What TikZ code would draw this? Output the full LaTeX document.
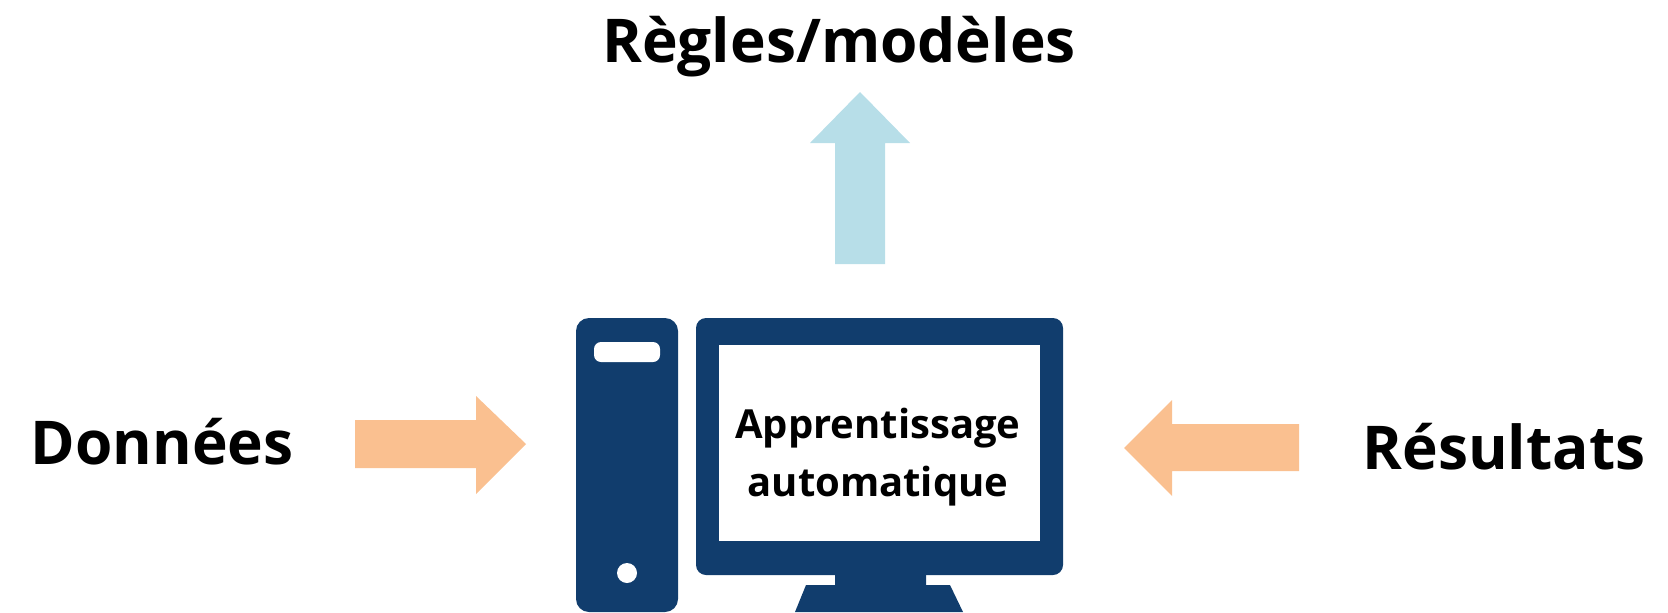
\documentclass[tikz,border=0pt]{standalone}
\usepackage{fontspec}
\setmainfont{Open Sans}
\definecolor{navy}{HTML}{113D6D}
\definecolor{skyarrow}{HTML}{B7DEE8}
\definecolor{peach}{HTML}{FAC090}
\tikzset{
  biglabel/.style={font=\bfseries\fontsize{60.4}{60}\selectfont,text=black,inner sep=0pt,anchor=base},
  screenlabel/.style={font=\bfseries\fontsize{40}{58}\selectfont,text=black,inner sep=0pt,align=center},
  pc/.style={fill=navy,draw=none},
  hole/.style={fill=white,draw=none},
}
\begin{document}
\begin{tikzpicture}[x=1pt,y=-1pt]
\useasboundingbox (0,0) rectangle (1668,613);
% arrows
\fill[skyarrow] (860,92) -- (910,143) -- (885,143) -- (885,264) -- (835,264) -- (835,143) -- (810,143) -- cycle;
\fill[peach] (526,444) -- (476,494) -- (476,468) -- (355,468) -- (355,420) -- (476,420) -- (476,396) -- cycle;
\fill[peach] (1124,448) -- (1172,400) -- (1172,424) -- (1299,424) -- (1299,471) -- (1172,471) -- (1172,496) -- cycle;
% tower
\fill[pc,rounded corners=13pt] (576,318) rectangle (678,612);
\fill[hole,rounded corners=7pt] (594,342) rectangle (660,362);
\fill[hole] (627,573) circle (10);
% monitor
\fill[pc,rounded corners=10pt] (696,318) rectangle (1063,575);
\fill[hole] (719,345) rectangle (1040,541);
\fill[pc] (835,570) -- (926,570) -- (926,585) -- (950,585) -- (963,612) -- (795,612) -- (806,585) -- (835,585) -- cycle;
% labels
\node[biglabel] (regles) at (839,62) {Règles/modèles};
\node[biglabel] (donnees) at (162,464) {Données};
\node[biglabel] (resultats) at (1504,469) {Résultats};
\node[screenlabel] (app) at (878,457) {Apprentissage\\automatique};
\end{tikzpicture}
\end{document}
